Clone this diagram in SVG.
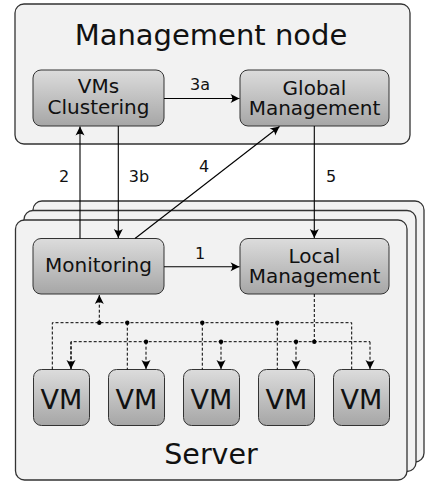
<svg xmlns="http://www.w3.org/2000/svg" width="425" height="481" viewBox="0 0 425 481">
<defs>
<linearGradient id="g" x1="0" y1="0" x2="0" y2="1">
<stop offset="0" stop-color="#dcdcdc"/>
<stop offset="1" stop-color="#a6a6a6"/>
</linearGradient>
<marker id="ah" viewBox="-10 -6 12 12" refX="0" refY="0" markerWidth="12" markerHeight="12" markerUnits="userSpaceOnUse" orient="auto">
<path d="M0,0 L-9,-4.5 Q-5.5,0 -9,4.5 Z" fill="#000"/>
</marker>
</defs>
<style>
.cont{fill:#f2f2f2;stroke:#333;stroke-width:1.3}
.box{fill:url(#g);stroke:#333;stroke-width:1}
.t{font-family:"DejaVu Sans",sans-serif;fill:#111;text-anchor:middle}
.ln{fill:none;stroke:#000;stroke-width:1.1}
.ds{fill:none;stroke:#000;stroke-width:1;stroke-dasharray:3,2}
.dot{fill:#000}
</style>
<g id="server-stack">
<rect class="cont" x="33" y="201" width="391" height="261" rx="9"/>
<rect class="cont" x="24" y="210.5" width="392" height="261" rx="9"/>
</g>
<g id="server">
<rect class="cont" x="15.5" y="220" width="391.5" height="260" rx="9"/>
<text class="t" x="211" y="463.5" font-size="28.5">Server</text>
</g>
<g id="management-node">
<rect class="cont" x="15" y="4" width="395" height="140" rx="9"/>
<text class="t" x="211" y="45" font-size="29">Management node</text>
</g>
<g id="vms-clustering">
<rect class="box" x="33" y="70" width="131" height="56" rx="8"/>
<text class="t" x="98.5" y="92.5" font-size="20">VMs</text>
<text class="t" x="98.5" y="113.5" font-size="20">Clustering</text>
</g>
<g id="global-management">
<rect class="box" x="240" y="70" width="149" height="56" rx="8"/>
<text class="t" x="314.5" y="94.5" font-size="20">Global</text>
<text class="t" x="314.5" y="115" font-size="20">Management</text>
</g>
<g id="monitoring">
<rect class="box" x="33" y="238.5" width="131" height="55.5" rx="8"/>
<text class="t" x="98.5" y="272" font-size="20">Monitoring</text>
</g>
<g id="local-management">
<rect class="box" x="240" y="238.5" width="149" height="55.5" rx="8"/>
<text class="t" x="314.5" y="262.5" font-size="20">Local</text>
<text class="t" x="314.5" y="283" font-size="20">Management</text>
</g>
<g id="vm1"><rect class="box" x="33.5" y="369.5" width="56" height="56" rx="8"/><text class="t" x="61.5" y="408.5" font-size="27">VM</text></g>
<g id="vm2"><rect class="box" x="108.5" y="369.5" width="56" height="56" rx="8"/><text class="t" x="136.5" y="408.5" font-size="27">VM</text></g>
<g id="vm3"><rect class="box" x="183.5" y="369.5" width="56" height="56" rx="8"/><text class="t" x="211.5" y="408.5" font-size="27">VM</text></g>
<g id="vm4"><rect class="box" x="258.5" y="369.5" width="56" height="56" rx="8"/><text class="t" x="286.5" y="408.5" font-size="27">VM</text></g>
<g id="vm5"><rect class="box" x="333.5" y="369.5" width="56" height="56" rx="8"/><text class="t" x="361.5" y="408.5" font-size="27">VM</text></g>
<g id="connectors">
<path class="ln" d="M164,98.5 H239.5" stroke="#333" marker-end="url(#ah)"/>
<path class="ln" d="M80,238.5 V126.5" marker-end="url(#ah)"/>
<path class="ln" d="M118.3,126 V238" stroke="#333" marker-end="url(#ah)"/>
<path class="ln" d="M135,238.5 L279.5,126.5" marker-end="url(#ah)"/>
<path class="ln" d="M314.3,126 V238" marker-end="url(#ah)"/>
<path class="ln" d="M164,266.7 H239.5" marker-end="url(#ah)"/>
<path class="ds" d="M52.3,369.5 V322.7 H351.7 V369.5 M127.3,322.7 V369.5 M202.3,322.7 V369.5 M277.3,322.7 V369.5"/>
<path class="ds" d="M99.3,322.7 V295" marker-end="url(#ah)"/>
<path class="ds" d="M314.3,294 V341.7 M71,369 V341.7 H370"/>
<path class="ds" d="M71,341.7 V369" marker-end="url(#ah)"/>
<path class="ds" d="M146,341.7 V369" marker-end="url(#ah)"/>
<path class="ds" d="M221,341.7 V369" marker-end="url(#ah)"/>
<path class="ds" d="M296,341.7 V369" marker-end="url(#ah)"/>
<path class="ds" d="M370,341.7 V369" marker-end="url(#ah)"/>
<circle class="dot" cx="99.3" cy="322.7" r="2.2"/>
<circle class="dot" cx="127.3" cy="322.7" r="2.2"/>
<circle class="dot" cx="202.3" cy="322.7" r="2.2"/>
<circle class="dot" cx="277.3" cy="322.7" r="2.2"/>
<circle class="dot" cx="146" cy="341.7" r="2.2"/>
<circle class="dot" cx="221" cy="341.7" r="2.2"/>
<circle class="dot" cx="296" cy="341.7" r="2.2"/>
<circle class="dot" cx="314.3" cy="341.7" r="2.2"/>
<text class="t" x="200" y="90" font-size="16">3a</text>
<text class="t" x="64" y="182" font-size="16">2</text>
<text class="t" x="139" y="182" font-size="16">3b</text>
<text class="t" x="204" y="172" font-size="16">4</text>
<text class="t" x="331" y="182" font-size="16">5</text>
<text class="t" x="200" y="258.5" font-size="16">1</text>
</g>
</svg>
